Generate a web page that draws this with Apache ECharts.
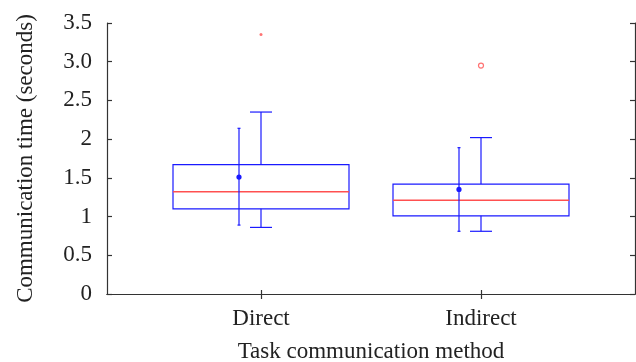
<!DOCTYPE html>
<html><head><meta charset="utf-8">
<script src="https://cdn.jsdelivr.net/npm/echarts@6/dist/echarts.min.js"></script>
<style>html,body{margin:0;padding:0;background:#fff}#c{width:636px;height:362px}</style>
</head><body><div id="c"></div>
<script>
// ---- data ----
const categories = ['Direct', 'Indirect'];
const whiskerLow = [0.86, 0.81];
const q1 = [1.10, 1.01];
const median = [1.32, 1.21];
const q3 = [1.67, 1.42];
const whiskerHigh = [2.35, 2.02];
const outliersDirect = [3.35];
const outliersIndirect = [2.95];
const means = [1.51, 1.35];
const meanLow = [0.89, 0.81];
const meanHigh = [2.14, 1.89];
const yTickLabels = ['0', '0.5', '1', '1.5', '2', '2.5', '3.0', '3.5'];
const xLabel = 'Task communication method';
const yLabel = 'Communication time (seconds)';

// ---- styles ----
const FONT = 'Liberation Serif';
const AX = '#333';
const BLUE = '#1a1aff';
const RED = '#ff5050';

const boxData = categories.map((c, i) => [i + 1, whiskerLow[i], q1[i], median[i], q3[i], whiskerHigh[i]]);
const meanData = categories.map((c, i) => [i + 1, means[i], meanLow[i], meanHigh[i]]);

function renderBox(params, api) {
  const x = api.value(0);
  const halfW = 0.4, cap = 0.05;
  const pLow = api.coord([x, api.value(1)]);
  const pQ1 = api.coord([x, api.value(2)]);
  const pMed = api.coord([x, api.value(3)]);
  const pQ3 = api.coord([x, api.value(4)]);
  const pHigh = api.coord([x, api.value(5)]);
  const xl = api.coord([x - halfW, 0])[0];
  const xr = api.coord([x + halfW, 0])[0];
  const cl = api.coord([x - cap, 0])[0];
  const cr = api.coord([x + cap, 0])[0];
  const ls = { stroke: BLUE, lineWidth: 1.2, fill: null };
  return {
    type: 'group',
    children: [
      { type: 'rect', shape: { x: xl, y: pQ3[1], width: xr - xl, height: pQ1[1] - pQ3[1] }, style: { stroke: BLUE, lineWidth: 1.2, fill: 'none' } },
      { type: 'line', shape: { x1: xl, y1: pMed[1], x2: xr, y2: pMed[1] }, style: { stroke: RED, lineWidth: 1.6 } },
      { type: 'line', shape: { x1: pQ3[0], y1: pQ3[1], x2: pHigh[0], y2: pHigh[1] }, style: ls },
      { type: 'line', shape: { x1: pQ1[0], y1: pQ1[1], x2: pLow[0], y2: pLow[1] }, style: ls },
      { type: 'line', shape: { x1: cl, y1: pHigh[1], x2: cr, y2: pHigh[1] }, style: ls },
      { type: 'line', shape: { x1: cl, y1: pLow[1], x2: cr, y2: pLow[1] }, style: ls }
    ]
  };
}

function renderMean(params, api) {
  const x = api.value(0) - 0.1;
  const pM = api.coord([x, api.value(1)]);
  const pL = api.coord([x, api.value(2)]);
  const pH = api.coord([x, api.value(3)]);
  const ls = { stroke: BLUE, lineWidth: 1.2 };
  return {
    type: 'group',
    children: [
      { type: 'line', shape: { x1: pL[0], y1: pL[1], x2: pH[0], y2: pH[1] }, style: ls },
      { type: 'line', shape: { x1: pL[0] - 1.5, y1: pL[1], x2: pL[0] + 1.5, y2: pL[1] }, style: ls },
      { type: 'line', shape: { x1: pH[0] - 1.5, y1: pH[1], x2: pH[0] + 1.5, y2: pH[1] }, style: ls },
      { type: 'circle', shape: { cx: pM[0], cy: pM[1], r: 2.6 }, style: { fill: BLUE } }
    ]
  };
}

const axisLine = { show: true, lineStyle: { color: AX, width: 1.2 } };
const tickStyle = { color: AX, width: 1.2 };
const textStyle = { fontFamily: FONT, fontSize: 23, color: '#222' };

const chart = echarts.init(document.getElementById('c'));
chart.setOption({
  animation: false,
  backgroundColor: '#fff',
  grid: { left: 107, right: 1, top: 23, bottom: 68, containLabel: false, outerBoundsMode: 'none' },
  xAxis: [
    {
      type: 'value', min: 0.3, max: 2.7, position: 'bottom',
      axisLine: axisLine,
      axisTick: { show: true, inside: true, length: 4, customValues: [1, 2], lineStyle: tickStyle },
      axisLabel: { customValues: [1, 2], formatter: v => categories[Math.round(v) - 1] || '', margin: 13, ...textStyle },
      splitLine: { show: false },
      name: xLabel, nameLocation: 'middle', nameGap: 46, nameTextStyle: textStyle
    },
    {
      type: 'value', min: 0.3, max: 2.7, position: 'top',
      axisLine: axisLine,
      axisTick: { show: true, inside: true, length: 5, customValues: [1, 2], lineStyle: tickStyle },
      axisLabel: { show: false },
      splitLine: { show: false }
    }
  ],
  yAxis: [
    {
      type: 'value', min: 0, max: 3.5, interval: 0.5, position: 'left',
      axisLine: axisLine,
      axisTick: { show: true, inside: true, length: 5, lineStyle: tickStyle },
      axisLabel: { formatter: v => yTickLabels[Math.round(v / 0.5)], margin: 15, ...textStyle },
      splitLine: { show: false },
      name: yLabel, nameLocation: 'middle', nameGap: 70, nameTextStyle: textStyle
    },
    {
      type: 'value', min: 0, max: 3.5, interval: 0.5, position: 'right',
      axisLine: axisLine,
      axisTick: { show: true, inside: true, length: 5, lineStyle: tickStyle },
      axisLabel: { show: false },
      splitLine: { show: false }
    }
  ],
  series: [
    { type: 'custom', renderItem: renderBox, data: boxData, encode: { x: 0, y: [1, 2, 3, 4, 5] }, z: 3 },
    { type: 'custom', renderItem: renderMean, data: meanData, encode: { x: 0, y: [1, 2, 3] }, z: 4 },
    { type: 'scatter', data: outliersDirect.map(v => [1, v]), symbol: 'circle', symbolSize: 3, itemStyle: { color: RED } },
    { type: 'scatter', data: outliersIndirect.map(v => [2, v]), symbol: 'circle', symbolSize: 5, itemStyle: { color: '#fff', borderColor: RED, borderWidth: 1.2 } }
  ]
});
</script>
</body></html>
